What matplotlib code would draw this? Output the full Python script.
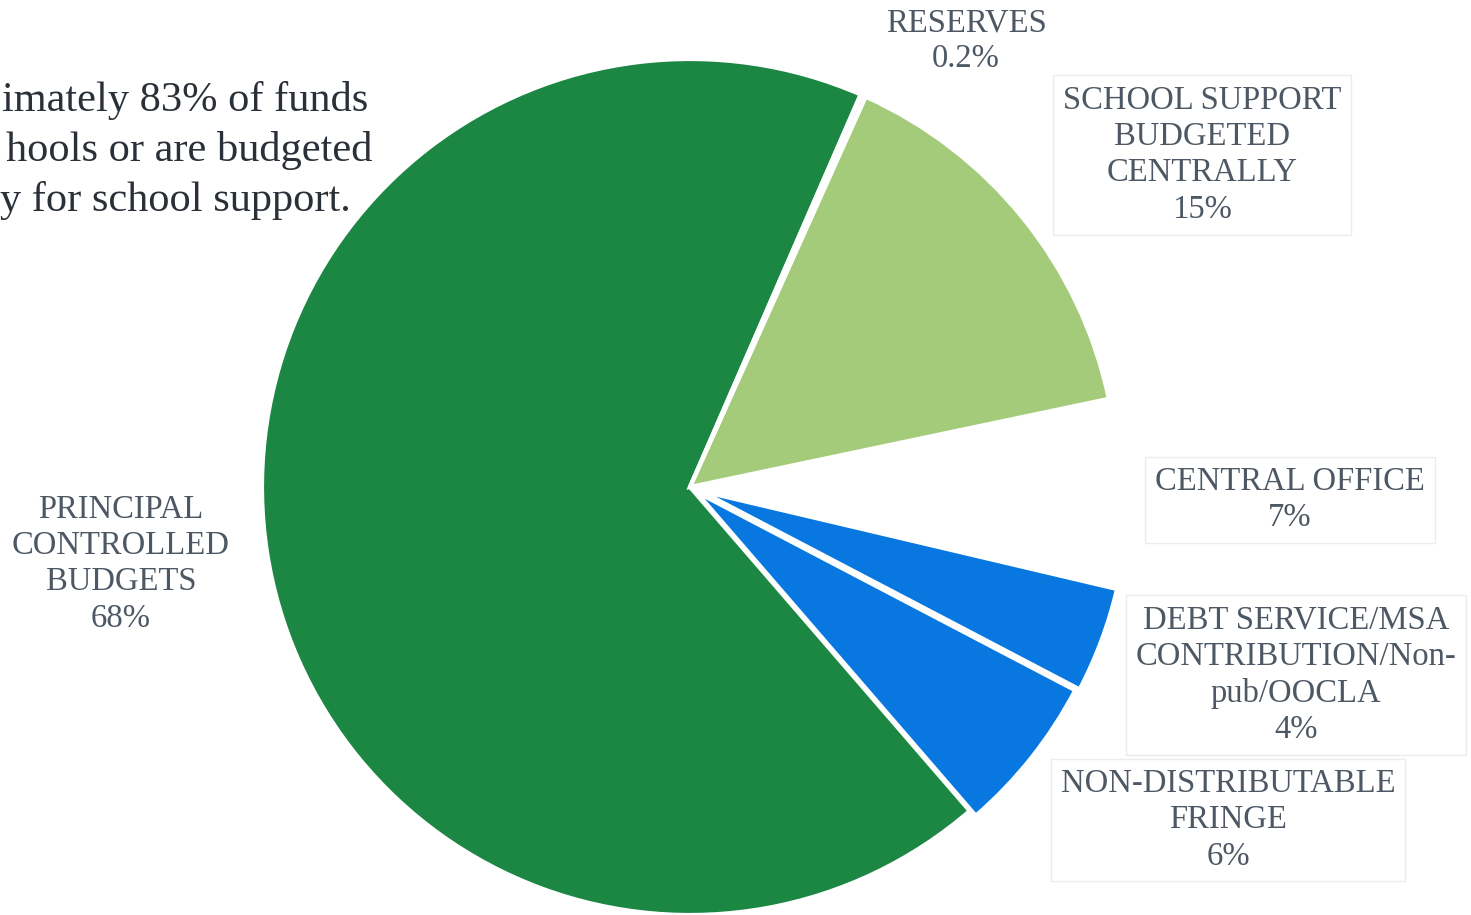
import matplotlib.pyplot as plt

# data (clockwise on screen from the top)
categories = ["PRINCIPAL\nCONTROLLED\nBUDGETS", "NON-DISTRIBUTABLE\nFRINGE",
              "DEBT SERVICE/MSA\nCONTRIBUTION/Non-\npub/OOCLA", "CENTRAL OFFICE",
              "SCHOOL SUPPORT\nBUDGETED\nCENTRALLY", "RESERVES"]
values = [68, 6, 4, 7, 15, 0.2]
pct_labels = ["68%", "6%", "4%", "7%", "15%", "0.2%"]
colors = ["#1c8743", "#0878e0", "#0878e0", "#ffffff", "#a4cb7a", "#f4f8f2"]
explode_frac = [0, 0.018, 0.026, 0, 0, 0]

intro_lines = ["imately 83% of funds", "hools or are budgeted", "y for school support."]

W, H = 1471, 915
R = 428
fig = plt.figure(figsize=(W / 100, H / 100), dpi=100)
ax = fig.add_axes([0, 0, 1, 1])

# pie() offsets exploded wedges in data units, so scale by the radius
ax.pie(values, colors=colors, explode=[e * R for e in explode_frac],
       startangle=66.5, counterclock=True,
       center=(690, H - 487), radius=R,
       wedgeprops=dict(edgecolor="white", linewidth=3))

# pie() resets the limits, so set them afterwards
ax.set_xlim(0, W)
ax.set_ylim(0, H)
ax.set_aspect("equal")
ax.axis("off")

serif = ["Liberation Serif", "DejaVu Serif"]

# paragraph text, cut off at the left edge of the page
intro_x = [2, 6, 0]
intro_y = [100, 150, 201]
for s, x, y in zip(intro_lines, intro_x, intro_y):
    ax.text(x, H - y, s, family=serif, fontsize=30.5, color="#2a3038",
            ha="left", va="center")

# label positions (pixel coords of the block centre)
label_pos = [(121, 564), (1228, 820), (1296, 675), (1290, 500), (1202, 155), (966, 41)]
boxes = [False, True, True, True, True, False]
for cat, pct, (x, y), box in zip(categories, pct_labels, label_pos, boxes):
    bbox = None
    if box:
        bbox = dict(boxstyle="square,pad=0.3", facecolor="none",
                    edgecolor="#eaecee", linewidth=1)
    ax.text(x, H - y, cat + "\n" + pct, family=serif, fontsize=23.5, color="#4d5864",
            ha="center", va="center", linespacing=1.25, bbox=bbox)

fig.savefig("out.png", dpi=100)
